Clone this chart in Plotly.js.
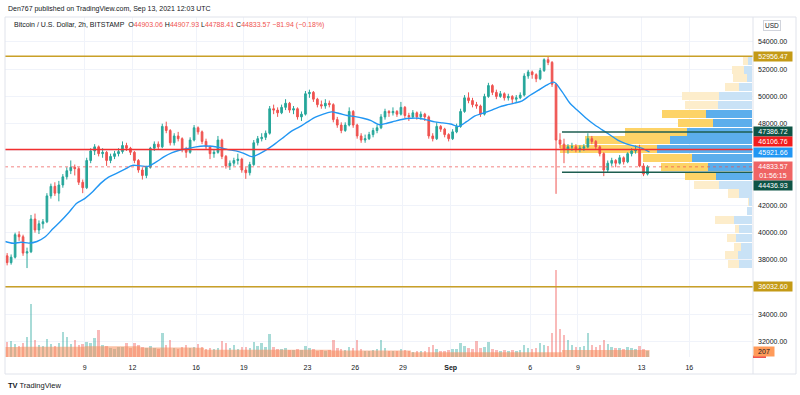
<!DOCTYPE html>
<html><head><meta charset="utf-8">
<script src="https://cdn.plot.ly/plotly-3.0.1.min.js"></script>
<style>html,body{margin:0;padding:0;background:#fff}#chart{width:800px;height:395px}</style>
</head><body><div id="chart"></div>
<script>
// ---------------- DATA ----------------
const candleStartUTC = Date.UTC(2021, 7, 4, 0, 0);   // first 6h candle (Aug 4 00:00 UTC)
const candleHours = 6;
const candleOpen = [
38300,37800,38200,39850,39700,38500,38600,41000,40200,40650,
40800,42700,43400,42900,43500,44100,44550,44800,44700,43700,
43300,45300,46000,46300,45800,45900,45300,45600,45800,45950,
46400,46200,45900,45300,44600,44200,44800,46200,46500,46300,
47800,47500,46600,47100,46900,46100,45900,46800,47700,47400,
46700,46300,45800,45900,46800,45600,44900,45100,45300,45400,
44600,44400,45000,46600,46900,47000,47300,49100,49000,48800,
49200,49500,49000,49100,48500,48700,50200,50300,49800,49400,
49300,49500,49400,48300,47900,47500,47900,48900,47900,47100,
46800,46900,47200,47500,47700,48500,48900,48800,48900,48700,
49200,48600,48500,48800,48500,48700,48500,47100,46900,47800,
47600,47200,46900,47400,47800,48900,49900,49700,49400,49300,
48700,50000,50800,50300,50000,50200,49900,50000,49800,49900,
50100,51500,51800,51600,51300,51900,52700,52500,50900,46800,
46500,46100,46300,46300,46100,46200,46300,46900,46700,46300,
45800,44600,45100,45300,45100,45500,45200,45800,46000,46100,
44900,44300];
const candleHigh = [
38500,38400,40000,40100,39850,38900,41300,41400,40900,41000,
42900,43600,43700,43800,44300,44800,45300,45000,44800,43900,
45500,46200,46500,46400,46200,46000,45800,46000,46200,46700,
46600,46300,46000,45400,44800,44900,46300,46700,46700,48000,
48150,47600,47300,47400,47000,46300,47000,47900,47800,47500,
46900,46400,46100,47100,46900,45700,45300,45500,45800,45500,
44800,45200,46800,47100,47300,47500,49300,49400,49200,49400,
49800,49600,49300,49200,48900,50400,50500,50400,49900,49700,
49800,49700,49500,48500,48100,48100,49200,49000,48000,47300,
47200,47400,47700,47900,48700,49100,49000,49200,49000,49600,
49300,48800,49000,48900,48900,48800,48600,47300,48100,47900,
47700,47300,47600,48000,49100,50100,50300,49900,49600,49400,
50200,51000,50900,50500,50400,50300,50200,50100,50100,50300,
51700,51950,51900,51700,52100,52800,52956,52600,51000,47300,
46900,46500,46600,46500,46400,46500,47300,47100,46800,46400,
45900,45300,45500,45400,45700,45600,45900,46200,46400,46450,
45100,44950];
const candleLow = [
37600,37650,38100,39400,38300,37400,38500,40000,39900,40300,
40700,42500,42700,42300,43300,43900,44300,44200,43500,42900,
43200,45100,45700,45600,45500,44900,45100,45400,45600,45800,
46000,45700,45100,44400,43900,44000,44700,46000,46100,46200,
47300,46400,46400,46700,45900,45500,45800,46700,47200,46500,
46100,45400,45500,45800,45400,44700,44600,44900,45000,44400,
43950,44200,44900,46400,46700,46800,47200,48700,48500,48700,
49000,48800,48700,48300,48200,48600,49900,49600,49200,49100,
49100,49200,48100,47700,47300,47400,47800,47700,46900,46600,
46600,46800,47000,47300,47600,48300,48500,48600,48500,48600,
48400,48200,48400,48300,48300,48200,46900,46700,46800,47400,
47000,46700,46800,47300,47700,48800,49500,49200,49100,48500,
48600,49900,50100,49800,49900,49700,49700,49500,49600,49800,
50000,51300,51300,51050,51200,51800,52300,50700,42850,46200,
45100,45800,46000,45900,45900,46000,46200,46500,46100,45600,
44150,44400,44900,44800,45000,45000,45100,45600,45800,44800,
44150,44200];
const candleClose = [
37800,38200,39850,39700,38500,38600,41000,40200,40650,40800,
42700,43400,42900,43500,44100,44550,44800,44700,43700,43300,
45300,46000,46300,45800,45900,45300,45600,45800,45950,46400,
46200,45900,45300,44600,44200,44800,46200,46500,46300,47800,
47500,46600,47100,46900,46100,45900,46800,47700,47400,46700,
46300,45800,45900,46800,45600,44900,45100,45300,45400,44600,
44400,45000,46600,46900,47000,47300,49100,49000,48800,49200,
49500,49000,49100,48500,48700,50200,50300,49800,49400,49300,
49500,49400,48300,47900,47500,47900,48900,47900,47100,46800,
46900,47200,47500,47700,48500,48900,48800,48900,48700,49200,
48600,48500,48800,48500,48700,48500,47100,46900,47800,47600,
47200,46900,47400,47800,48900,49900,49700,49400,49300,48700,
50000,50800,50300,50000,50200,49900,50000,49800,49900,50100,
51500,51800,51600,51300,51900,52700,52500,50900,46800,46500,
46100,46300,46300,46100,46200,46300,46900,46700,46300,45800,
44600,45100,45300,45100,45500,45200,45800,46000,46100,44900,
44300,44833.57];
const volume = [
520,560,450,380,480,700,1830,600,420,380,
620,450,380,500,860,700,450,580,400,460,
520,480,650,930,420,380,300,280,330,360,
480,300,480,400,350,300,380,310,290,830,
420,580,300,280,330,400,300,350,460,330,
280,300,260,320,550,480,300,420,280,330,
360,300,520,380,480,330,800,360,280,260,
300,250,230,280,240,380,300,260,220,240,
200,230,580,300,280,240,330,300,600,260,
220,200,240,260,580,300,220,200,190,260,
240,200,180,190,200,220,330,400,280,220,
200,240,260,280,480,380,300,260,540,300,
330,520,280,250,220,240,200,230,210,250,
420,300,260,300,480,420,380,830,3000,960,
750,580,420,350,330,380,830,400,330,420,
600,450,330,300,320,280,330,300,280,380,
260,207];
// 12-hourly indicator readings (Aug 4 00:00 .. Sep 13 12:00)
const indicatorStartUTC = Date.UTC(2021, 7, 4, 0, 0);
const indicatorHours = 12;
const movingAverage = [
39350,39220,39300,39230,39350,39680,40280,40850,41480,42160,
42500,43000,43620,44080,44350,44640,44940,44900,44870,45190,
45580,45870,46070,46190,46300,46360,46340,46240,46100,46000,
45820,45580,45800,46150,46560,47000,47450,47760,48130,48480,
48700,48870,48750,48600,48520,48400,48230,47930,48030,48190,
48330,48400,48400,48280,48130,48060,47980,47800,48150,48560,
48760,48960,49200,49370,49510,49680,50090,50440,50810,51050,
50350,49500,48950,48420,47960,47570,47190,46800,46540,46370,
46210,45922];
const volumeMA = [
345,345,350,350,350,350,350,350,350,350,
370,370,370,370,370,370,370,330,330,330,
330,330,330,330,320,250,250,250,250,250,
250,250,250,250,250,250,250,250,250,250,
250,220,220,220,220,220,220,220,220,220,
220,165,165,165,165,165,165,165,165,165,
165,165,165,165,165,165,165,165,165,165,
245,245,245,245,245,245,245,245,245,245,
245,245];
// Volume profile rows (price centre, up volume, down volume, in value area)
const profilePrice = [37675,38325,38975,39625,40275,40925,41575,42225,42875,43525,44175,44825,
                      45475,46125,46775,47425,48075,48725,49375,50025,50675,51325,51975,52625];
const profileUp    = [13,14,11,16,13,18,5,3,13,33,36,44,60,95,82,65,39,46,34,33,13,5,8,4];
const profileDown  = [11,13,7,9,4,19,0,1,11,25,31,47,49,97,85,62,35,44,33,37,14,14,12,5];
const profileInVA  = [0,0,0,0,0,0,0,0,0,0,1,1,1,1,1,1,1,1,0,0,0,0,0,0];
// Levels and labels
const resistanceLevel = 52956.47;
const supportLevel = 36032.60;
const keyLevel = 46106.76;
const rangeHigh = 47386.72;
const rangeLow = 44436.93;
const lastPrice = 44833.57;
const maLast = 45921.66;
const lastVolume = 207;
const countdown = '01:56:15';
const rangeStart = '2021-09-08 00:00';
const priceTicks = [32000,34000,36000,38000,40000,42000,44000,46000,48000,50000,52000,54000];
const priceTickText = ['32000.00','34000.00','','38000.00','40000.00','42000.00','','','48000.00','50000.00','52000.00','54000.00'];
const timeTicks = ['2021-08-09','2021-08-12','2021-08-16','2021-08-19','2021-08-23','2021-08-26','2021-08-29',
                   '2021-09-01','2021-09-06','2021-09-09','2021-09-13','2021-09-16'];
const timeTickText = ['9','12','16','19','23','26','29','<b>Sep</b>','6','9','13','16'];
const headerTitle = 'Den767 published on TradingView.com, Sep 13, 2021 12:03 UTC';
const symbolText = 'Bitcoin / U.S. Dollar, 2h, BITSTAMP';
const ohlcText = {O:'44903.06', H:'44907.93', L:'44788.41', C:'44833.57', chg:'\u221281.94 (\u22120.18%)'};

// ---------------- BUILD ----------------
const L=5, R=753, T=17, B=357;
const pw=R-L, ph=B-T;
const px = x => (x-L)/pw, py = y => (B-y)/ph;
const UP='#26a69a', DOWN='#ef5350';

const hr = 3600000;
const candleTime = candleOpen.map((_, i) => candleStartUTC + (i + 0.5) * candleHours * hr);
const indTime = movingAverage.map((_, i) => indicatorStartUTC + i * indicatorHours * hr);
const isUp = candleOpen.map((o, i) => candleClose[i] >= o);

const traces = [];
// volume profile (base subplot, x axis in profile units growing leftwards)
const sel = (arr, flag) => arr.map((v, i) => profileInVA[i] === flag ? v : 0);
traces.push({type:'bar', orientation:'h', xaxis:'x', yaxis:'y', y:profilePrice, x:sel(profileUp,1), width:590, marker:{color:'#5caeec', line:{width:0}}});
traces.push({type:'bar', orientation:'h', xaxis:'x', yaxis:'y', y:profilePrice, x:sel(profileUp,0), width:590, marker:{color:'#c9e2f6', line:{width:0}}});
traces.push({type:'bar', orientation:'h', xaxis:'x', yaxis:'y', y:profilePrice, x:sel(profileDown,1), width:590, marker:{color:'#fdd367', line:{width:0}}});
traces.push({type:'bar', orientation:'h', xaxis:'x', yaxis:'y', y:profilePrice, x:sel(profileDown,0), width:590, marker:{color:'#fdedcb', line:{width:0}}});
// candles
traces.push({type:'candlestick', xaxis:'x2', yaxis:'y', x:candleTime, open:candleOpen, high:candleHigh, low:candleLow, close:candleClose,
  increasing:{line:{color:UP, width:1}, fillcolor:UP}, decreasing:{line:{color:DOWN, width:1}, fillcolor:DOWN}, whiskerwidth:0, hoverinfo:'skip'});
// moving average
traces.push({type:'scatter', mode:'lines', xaxis:'x2', yaxis:'y', x:indTime, y:movingAverage, line:{color:'#2196f3', width:1.4, shape:'spline', smoothing:0.8}, hoverinfo:'skip'});
// volume
traces.push({type:'bar', xaxis:'x2', yaxis:'y2', x:candleTime, y:volume, width:candleHours*hr*0.62,
  marker:{color:isUp.map(u => u ? 'rgba(38,166,154,0.4)' : 'rgba(239,83,80,0.4)'), line:{width:0}}, hoverinfo:'skip'});
traces.push({type:'scatter', mode:'lines', xaxis:'x2', yaxis:'y2', x:indTime, y:volumeMA, fill:'tozeroy',
  fillcolor:'rgba(247,140,90,0.55)', line:{width:0, shape:'hv'}, hoverinfo:'skip'});

const xr = [candleStartUTC - 14*60000, Date.UTC(2021, 8, 20, 0, 7)];
const hline = (y, color, width, dash) => ({type:'line', xref:'paper', x0:0, x1:1, yref:'y', y0:y, y1:y, line:{color, width, dash:dash||'solid'}});
const rline = (y) => ({type:'line', xref:'x2', x0:rangeStart, x1:xr[1], yref:'y', y0:y, y1:y, line:{color:'#1e5e50', width:1.5}});
const shapes = [
  hline(resistanceLevel, '#c9a027', 1.5),
  hline(supportLevel, '#c9a027', 1.5),
  hline(lastPrice, 'rgba(239,83,80,0.7)', 1, 'dot'),
  hline(keyLevel, '#f23030', 1.5),
  rline(rangeHigh), rline(rangeLow),
  // pane borders
  {type:'line', xref:'paper', yref:'paper', x0:px(L), x1:px(796), y0:py(17), y1:py(17), line:{color:'#e0e3eb', width:1}},
  {type:'line', xref:'paper', yref:'paper', x0:px(L), x1:px(796), y0:py(374), y1:py(374), line:{color:'#e0e3eb', width:1}},
  {type:'line', xref:'paper', yref:'paper', x0:px(L), x1:px(L), y0:py(17), y1:py(374), line:{color:'#e0e3eb', width:1}},
  {type:'line', xref:'paper', yref:'paper', x0:px(R), x1:px(R), y0:py(17), y1:py(374), line:{color:'#e0e3eb', width:1}},
  {type:'line', xref:'paper', yref:'paper', x0:px(796), x1:px(796), y0:py(17), y1:py(374), line:{color:'#e0e3eb', width:1}},
  {type:'rect', xref:'paper', yref:'paper', x0:px(R), x1:px(766), y0:py(358), y1:py(355.5), fillcolor:'#ef5350', line:{width:0}}
];

const tag = (text, y, bg, shift, opts) => Object.assign({x:1, xref:'paper', xanchor:'left', y, yref:'y', yanchor:'middle', yshift:shift||0,
  text, bgcolor:bg, font:{size:7, color:'#ffffff', family:'Liberation Sans, Arial, sans-serif'}, width:36, borderpad:1, showarrow:false, align:'center'}, opts||{});
const red = s => '<span style="color:#ef5350">' + s + '</span>';
const annotations = [
  {xref:'paper', yref:'paper', x:px(6), y:py(9), xanchor:'left', yanchor:'middle', showarrow:false, text:headerTitle, font:{size:7, color:'#131722'}},
  {xref:'paper', yref:'paper', x:px(12), y:py(25), xanchor:'left', yanchor:'middle', showarrow:false,
   text: symbolText + '\u00a0\u00a0O' + red(ohlcText.O) + ' H' + red(ohlcText.H) + ' L' + red(ohlcText.L) + ' C' + red(ohlcText.C) + ' ' + red(ohlcText.chg),
   font:{size:7, color:'#131722'}},
  {xref:'paper', yref:'paper', x:px(6), y:py(385), xanchor:'left', yanchor:'middle', showarrow:false, text:'<b>TV</b> TradingView', font:{size:7.5, color:'#131722'}},
  {xref:'paper', yref:'paper', x:px(771.5), y:py(25), xanchor:'center', yanchor:'middle', showarrow:false, text:'USD', font:{size:6.5, color:'#131722'}, bordercolor:'#d1d4dc', borderwidth:1, borderpad:1, bgcolor:'#fff'},
  tag(resistanceLevel.toFixed(2), resistanceLevel, '#c49a16'),
  tag(supportLevel.toFixed(2), supportLevel, '#c49a16'),
  tag(rangeHigh.toFixed(2), rangeHigh, '#0e5446', 1),
  tag(keyLevel.toFixed(2), keyLevel, '#f21d1d', 8),
  tag(maLast.toFixed(2), maLast, '#2196f3', 0),
  tag(lastPrice.toFixed(2) + '<br>' + countdown, lastPrice, '#ef6464', -4),
  tag(rangeLow.toFixed(2), rangeLow, '#0e5446', -13),
  tag(String(lastVolume), lastVolume, '#ff9b5a', 0, {yref:'y2', width:18, font:{size:7, color:'#131722'}})
];

const layout = {
  width:800, height:395,
  margin:{l:L, r:800-R, t:T, b:395-B, pad:0},
  paper_bgcolor:'#ffffff', plot_bgcolor:'#ffffff',
  showlegend:false, hovermode:false, dragmode:false,
  barmode:'stack', boxgap:0.4,
  font:{family:'Liberation Sans, Arial, sans-serif', size:7, color:'#131722'},
  xaxis:{range:[747,-1], visible:false, fixedrange:true, showgrid:false, zeroline:false},
  xaxis2:{overlaying:'x', type:'date', range:xr, tickmode:'array', tickvals:timeTicks, ticktext:timeTickText,
    showgrid:true, gridcolor:'#f0f3fa', gridwidth:1, ticks:'', showline:false, zeroline:false,
    tickfont:{size:7, color:'#131722'}, ticklabelstandoff:5, rangeslider:{visible:false}, fixedrange:true},
  yaxis:{side:'right', range:[30871,55834], tickmode:'array', tickvals:priceTicks, ticktext:priceTickText,
    showgrid:true, gridcolor:'#f0f3fa', gridwidth:1, ticks:'', zeroline:false, showline:false,
    tickfont:{size:7, color:'#131722'}, ticklabelstandoff:4, fixedrange:true},
  yaxis2:{overlaying:'y', range:[0, 11730], visible:false, fixedrange:true},
  shapes, annotations
};
Plotly.newPlot('chart', traces, layout, {staticPlot:true, displayModeBar:false});
</script></body></html>
